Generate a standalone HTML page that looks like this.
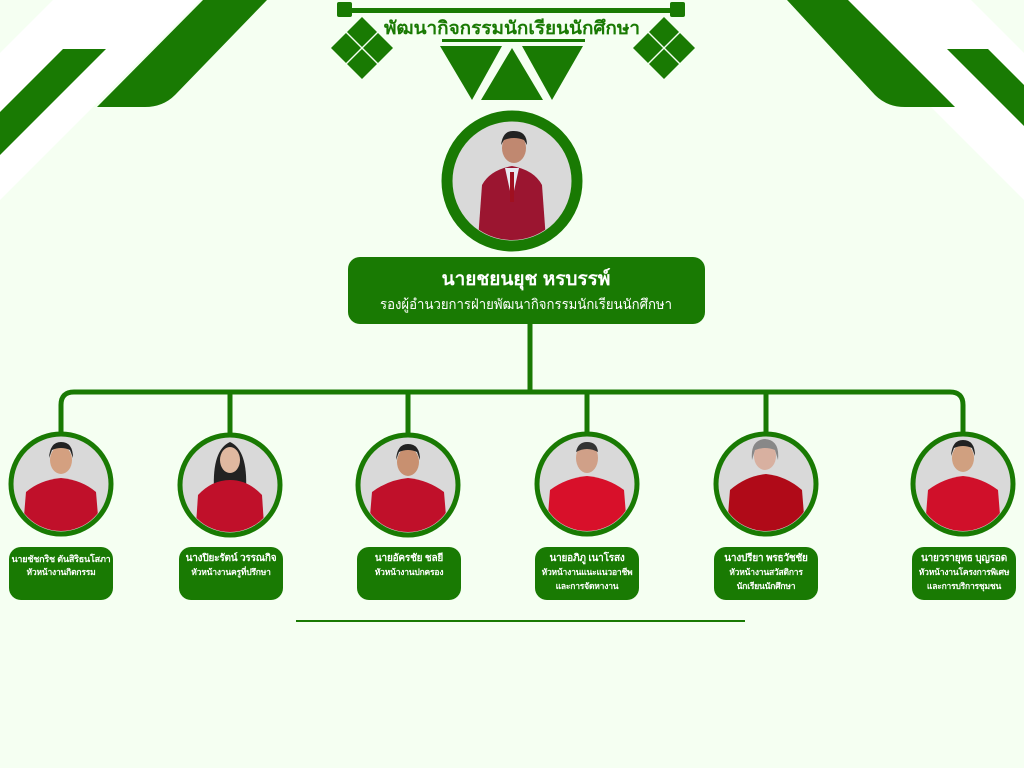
<!DOCTYPE html>
<html><head><meta charset="utf-8">
<style>
html,body{margin:0;padding:0;background:#f5fff2;}
body{width:1024px;height:768px;position:relative;overflow:hidden;font-family:"Liberation Sans","DejaVu Sans",sans-serif;}
svg{position:absolute;left:0;top:0;}
.box{position:absolute;background:#197a03;color:#fff;border-radius:12px;text-align:center;box-sizing:border-box;}
.sm{top:547px;height:53px;width:104px;font-size:8.5px;font-weight:bold;line-height:13.5px;padding-top:5px;white-space:nowrap;letter-spacing:-0.2px;}
.sm b{font-size:10px;display:block;line-height:14px;}
</style></head><body>
<svg width="1024" height="768" viewBox="0 0 1024 768">
<defs>
<clipPath id="c0"><circle cx="512" cy="181" r="59"/></clipPath>
</defs>
<polygon points="0,53 53,0 200,0 0,200" fill="#ffffff"/>
<polygon points="0,112 63,49 106,49 0,155" fill="#197a03"/>
<path d="M203,0 L267,0 L175,95 Q163,107 145,107 L97,107 Z" fill="#197a03"/>
<polygon points="1024,53 971,0 824,0 1024,200" fill="#ffffff"/>
<polygon points="947,49 988,49 1024,85 1024,126" fill="#197a03"/>
<path d="M787,0 L848,0 L955,107 L905,107 Q887,107 875,95 Z" fill="#197a03"/>
<rect x="345" y="8" width="333" height="5" fill="#197a03"/>
<rect x="337" y="2" width="15" height="15" rx="2" fill="#197a03"/>
<rect x="670" y="2" width="15" height="15" rx="2" fill="#197a03"/>
<g fill="#197a03">
<polygon points="362,17 377,32 362,47 347,32"/>
<polygon points="378,33 393,48 378,63 363,48"/>
<polygon points="362,49 377,64 362,79 347,64"/>
<polygon points="346,33 361,48 346,63 331,48"/>
<polygon points="664,17 679,32 664,47 649,32"/>
<polygon points="680,33 695,48 680,63 665,48"/>
<polygon points="664,49 679,64 664,79 649,64"/>
<polygon points="648,33 663,48 648,63 633,48"/>
</g>
<text x="512" y="34" text-anchor="middle" font-size="18" font-weight="bold" fill="#197a03" textLength="256" lengthAdjust="spacingAndGlyphs">พัฒนากิจกรรมนักเรียนนักศึกษา</text>
<rect x="442" y="39" width="143" height="3" fill="#197a03"/>
<polygon points="440,46 502,46 472,100" fill="#197a03"/>
<polygon points="512,48 543,100 481,100" fill="#197a03"/>
<polygon points="522,46 583,46 552,100" fill="#197a03"/>
<circle cx="512" cy="181" r="65" fill="#d9d9d9" stroke="#197a03" stroke-width="11"/>
<g clip-path="url(#c0)">
<path d="M478,240 L482,185 Q490,170 512,166 Q534,170 542,185 L546,240 Z" fill="#9b1530"/>
<path d="M505,168 L512,200 L519,168 Z" fill="#e8e8f0"/>
<rect x="510" y="172" width="4" height="30" fill="#a01020"/>
<ellipse cx="514" cy="148" rx="12" ry="15" fill="#c08870"/>
<path d="M501,145 Q503,130 514,131 Q527,131 527,145 L524,140 Q514,136 504,140 Z" fill="#222"/>
</g>
<rect x="348" y="257" width="357" height="67" rx="12" fill="#197a03"/>
<text x="526" y="285" text-anchor="middle" font-size="19" font-weight="bold" fill="#fff">นายชยนยุช หรบรรพ์</text>
<text x="526" y="309" text-anchor="middle" font-size="14" fill="#fff" textLength="292" lengthAdjust="spacingAndGlyphs">รองผู้อำนวยการฝ่ายพัฒนากิจกรรมนักเรียนนักศึกษา</text>
<g stroke="#197a03" stroke-width="5" fill="none">
<line x1="530" y1="324" x2="530" y2="392"/>
<path d="M61,433 L61,405 Q61,392 74,392 L950,392 Q963,392 963,405 L963,433"/>
<line x1="230" y1="392" x2="230" y2="434"/>
<line x1="408" y1="392" x2="408" y2="434"/>
<line x1="587" y1="392" x2="587" y2="434"/>
<line x1="766" y1="392" x2="766" y2="434"/>
</g>
<line x1="296" y1="621" x2="745" y2="621" stroke="#197a03" stroke-width="2"/>
</svg>
<svg width="1024" height="768" viewBox="0 0 1024 768">
<defs>
<clipPath id="k1"><circle cx="61" cy="484" r="47"/></clipPath>
<clipPath id="k2"><circle cx="230" cy="485" r="47"/></clipPath>
<clipPath id="k3"><circle cx="408" cy="485" r="47"/></clipPath>
<clipPath id="k4"><circle cx="587" cy="484" r="47"/></clipPath>
<clipPath id="k5"><circle cx="766" cy="484" r="47"/></clipPath>
<clipPath id="k6"><circle cx="963" cy="484" r="47"/></clipPath>
</defs>
<circle cx="61" cy="484" r="50" fill="#d9d9d9" stroke="#197a03" stroke-width="5"/>
<g clip-path="url(#k1)"><path d="M22,540 L26,492 Q40,480 61,478 Q82,480 96,492 L100,540Z" fill="#c0102a"/><ellipse cx="61" cy="460" rx="11" ry="14" fill="#d4a080"/><path d="M49,458 Q50,442 61,442 Q73,442 73,458 L70,450 Q61,446 52,450Z" fill="#222"/></g>
<circle cx="230" cy="485" r="50" fill="#d9d9d9" stroke="#197a03" stroke-width="5"/>
<g clip-path="url(#k2)"><path d="M214,490 Q212,450 230,442 Q248,450 246,490Z" fill="#222"/><path d="M195,540 L198,495 Q212,480 230,480 Q248,480 262,495 L265,540Z" fill="#c0102a"/><ellipse cx="230" cy="460" rx="10" ry="13" fill="#e0b8a0"/></g>
<circle cx="408" cy="485" r="50" fill="#d9d9d9" stroke="#197a03" stroke-width="5"/>
<g clip-path="url(#k3)"><path d="M368,540 L372,492 Q388,480 408,478 Q428,480 444,492 L448,540Z" fill="#c0102a"/><ellipse cx="408" cy="462" rx="11" ry="14" fill="#c89070"/><path d="M396,460 Q397,444 408,444 Q420,444 420,460 L417,452 Q408,448 399,452Z" fill="#222"/></g>
<circle cx="587" cy="484" r="50" fill="#d9d9d9" stroke="#197a03" stroke-width="5"/>
<g clip-path="url(#k4)"><path d="M546,540 L550,490 Q566,478 587,476 Q608,478 624,490 L628,540Z" fill="#d8102a"/><ellipse cx="587" cy="458" rx="11" ry="15" fill="#d0a088"/><path d="M576,452 Q578,442 587,442 Q597,442 598,452 Q587,446 576,452Z" fill="#333"/></g>
<circle cx="766" cy="484" r="50" fill="#d9d9d9" stroke="#197a03" stroke-width="5"/>
<g clip-path="url(#k5)"><path d="M726,540 L730,490 Q746,476 766,474 Q786,476 802,490 L806,540Z" fill="#b00a18"/><ellipse cx="765" cy="456" rx="11" ry="14" fill="#d8b0a0"/><path d="M752,460 Q750,440 765,439 Q780,440 778,460 L775,450 Q765,446 755,450Z" fill="#888"/></g>
<circle cx="963" cy="484" r="50" fill="#d9d9d9" stroke="#197a03" stroke-width="5"/>
<g clip-path="url(#k6)"><path d="M924,540 L928,490 Q944,478 963,476 Q982,478 998,490 L1002,540Z" fill="#d0102a"/><ellipse cx="963" cy="458" rx="11" ry="14" fill="#d0a080"/><path d="M951,456 Q952,440 963,440 Q975,440 975,456 L972,448 Q963,444 954,448Z" fill="#222"/></g>
</svg>
<div class="box sm" style="left:9px;"><b style="font-size:9px">นายชัชกริช ตันสิริธนโสภา</b>หัวหน้างานกิตกรรม</div>
<div class="box sm" style="left:179px;"><b>นางปิยะรัตน์ วรรณกิจ</b>หัวหน้างานครูที่ปรึกษา</div>
<div class="box sm" style="left:357px;"><b>นายอัครชัย ชลยี</b>หัวหน้างานปกครอง</div>
<div class="box sm" style="left:535px;"><b>นายอภิภู เนาโรสง</b>หัวหน้างานแนะแนวอาชีพ<br>และการจัดหางาน</div>
<div class="box sm" style="left:714px;"><b>นางปรียา พรธวัชชัย</b>หัวหน้างานสวัสดิการ<br>นักเรียนนักศึกษา</div>
<div class="box sm" style="left:912px;"><b>นายวรายุทธ บุญรอด</b>หัวหน้างานโครงการพิเศษ<br>และการบริการชุมชน</div>
</body></html>
